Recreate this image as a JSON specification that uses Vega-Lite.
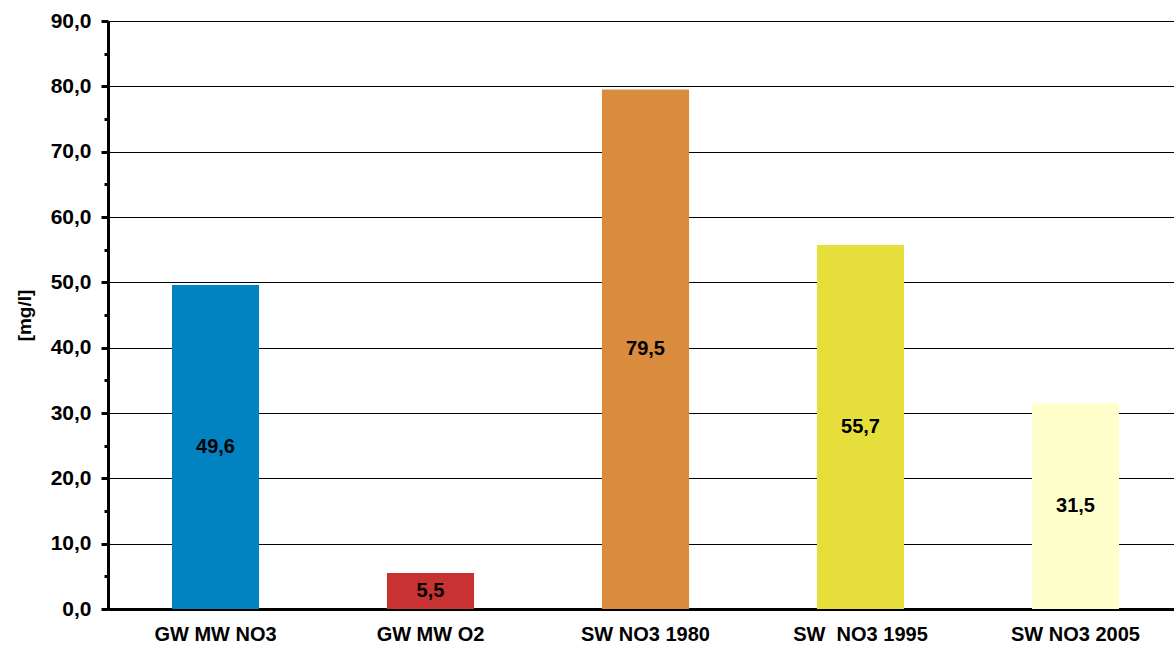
{
  "$schema": "https://vega.github.io/schema/vega-lite/v6.json",
  "autosize": {"type": "none"},
  "padding": {"left": 108, "top": 21, "right": 0, "bottom": 42},
  "width": 1075,
  "height": 588,
  "background": "white",
  "config": {
    "locale": {"number": {"decimal": ",", "thousands": ".", "grouping": [3], "currency": ["", " €"]}},
    "view": {"stroke": null},
    "font": "Liberation Sans"
  },
  "data": {
    "values": [
      {"category": "GW MW NO3", "value": 49.6, "color": "#0083C0"},
      {"category": "GW MW O2", "value": 5.5, "color": "#C83232"},
      {"category": "SW NO3 1980", "value": 79.5, "color": "#D98B3E"},
      {"category": "SW\u00a0 NO3 1995", "value": 55.7, "color": "#E5DE3B"},
      {"category": "SW NO3 2005", "value": 31.5, "color": "#FFFFCC"}
    ]
  },
  "layer": [
    {
      "mark": {"type": "bar"},
      "encoding": {
        "x": {
          "field": "category", "type": "nominal", "sort": null,
          "scale": {"paddingInner": 0.595, "paddingOuter": 0.2975},
          "axis": {
            "title": null, "labelAngle": 0, "labelFont": "Liberation Sans",
            "labelFontSize": 20, "labelFontWeight": "bold", "labelColor": "black",
            "ticks": false, "domain": true, "domainColor": "black", "domainWidth": 3,
            "labelPadding": 15
          }
        },
        "y": {
          "field": "value", "type": "quantitative",
          "scale": {"domain": [0, 90], "nice": false},
          "axis": {
            "title": "[mg/l]", "titleFont": "Liberation Sans", "titleFontSize": 19,
            "titleFontWeight": "bold", "titleColor": "black", "titlePadding": 16,
            "values": [0, 5, 10, 15, 20, 25, 30, 35, 40, 45, 50, 55, 60, 65, 70, 75, 80, 85, 90],
            "labelExpr": "datum.value % 10 == 0 ? format(datum.value, '.1f') : ''",
            "labelFont": "Liberation Sans", "labelFontSize": 21, "labelFontWeight": "bold",
            "labelColor": "black", "labelPadding": 10,
            "domainColor": "black", "domainWidth": 3,
            "tickColor": "black", "tickWidth": 3,
            "tickSize": {"condition": {"test": "datum.value % 10 == 0", "value": 7}, "value": 4},
            "grid": true, "gridColor": "black", "gridWidth": 1,
            "gridOpacity": {"condition": {"test": "datum.value % 10 == 0", "value": 1}, "value": 0}
          }
        },
        "color": {"field": "color", "type": "nominal", "scale": null, "legend": null}
      }
    },
    {
      "mark": {"type": "text", "font": "Liberation Sans", "fontSize": 20, "fontWeight": "bold", "color": "black", "baseline": "middle"},
      "encoding": {
        "x": {"field": "category", "type": "nominal", "sort": null},
        "y": {"field": "value", "type": "quantitative", "scale": {"domain": [0, 180], "nice": false}, "axis": null},
        "text": {"field": "value", "type": "quantitative", "format": ".1f"}
      }
    }
  ],
  "resolve": {"scale": {"y": "independent"}}
}
